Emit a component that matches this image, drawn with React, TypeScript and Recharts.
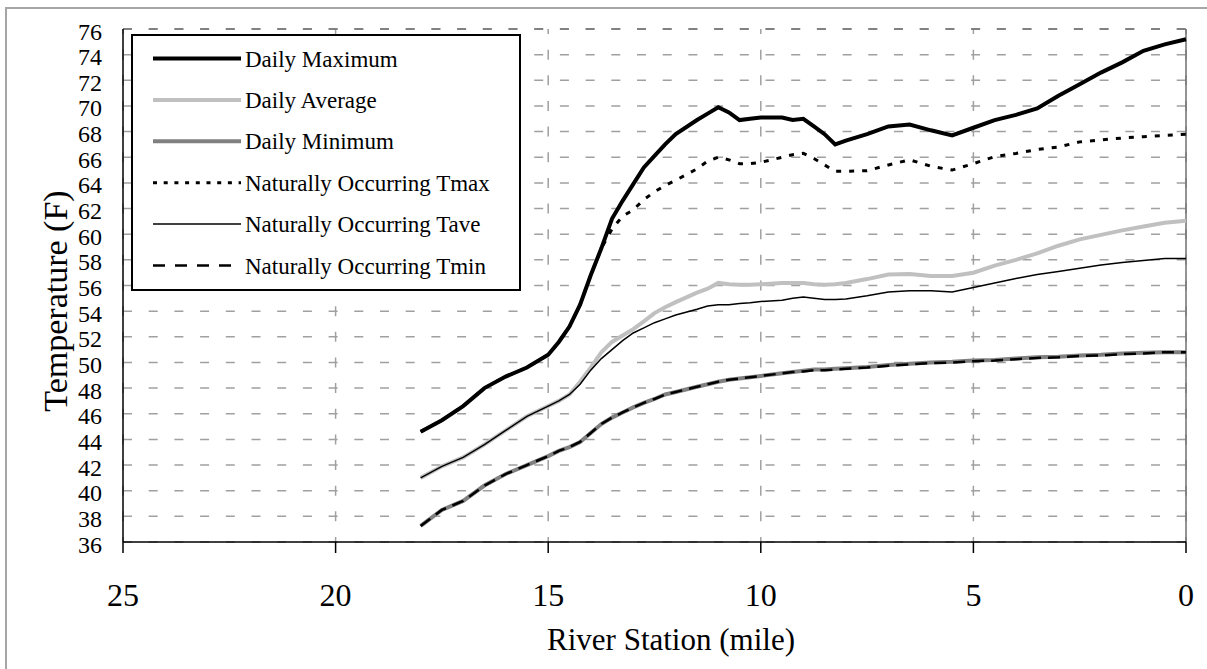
import React from "react";
import { LineChart, Line, XAxis, YAxis, CartesianGrid, ReferenceLine } from "recharts";

// river stations (miles upstream of the mouth)
const miles = [18, 17.5, 17, 16.5, 16, 15.5, 15, 14.75, 14.5, 14.25, 14, 13.75, 13.5, 13.25, 13, 12.75, 12.5, 12.25, 12, 11.5, 11.25, 11, 10.75, 10.5, 10.25, 10, 9.5, 9.25, 9, 8.75, 8.5, 8.25, 8, 7.5, 7, 6.5, 6, 5.5, 5, 4.5, 4, 3.5, 3, 2.5, 2, 1.5, 1, 0.5, 0];

const dailyMax = [44.6, 45.5, 46.6, 48.0, 48.9, 49.6, 50.6, 51.6, 52.8, 54.5, 56.8, 58.9, 61.2, 62.6, 63.9, 65.2, 66.1, 67.0, 67.8, 68.9, 69.4, 69.9, 69.5, 68.9, 69.0, 69.1, 69.1, 68.9, 69.0, 68.4, 67.8, 67.0, 67.3, 67.8, 68.4, 68.55, 68.1, 67.7, 68.3, 68.9, 69.3, 69.8, 70.8, 71.7, 72.6, 73.4, 74.3, 74.8, 75.2];
const dailyAve = [41.0, 41.9, 42.6, 43.6, 44.7, 45.8, 46.6, 47.0, 47.5, 48.5, 49.6, 50.8, 51.6, 52.1, 52.6, 53.2, 53.85, 54.3, 54.7, 55.45, 55.75, 56.2, 56.1, 56.05, 56.05, 56.1, 56.2, 56.2, 56.2, 56.1, 56.05, 56.1, 56.2, 56.5, 56.85, 56.9, 56.75, 56.75, 57.0, 57.55, 58.0, 58.5, 59.1, 59.6, 59.95, 60.3, 60.6, 60.9, 61.05];
const dailyMin = [37.25, 38.5, 39.2, 40.4, 41.3, 42.0, 42.7, 43.1, 43.4, 43.8, 44.5, 45.2, 45.7, 46.1, 46.5, 46.85, 47.15, 47.5, 47.7, 48.1, 48.3, 48.5, 48.65, 48.75, 48.85, 48.95, 49.15, 49.25, 49.35, 49.45, 49.45, 49.5, 49.55, 49.65, 49.8, 49.9, 50.0, 50.05, 50.15, 50.2, 50.3, 50.4, 50.45, 50.55, 50.6, 50.7, 50.75, 50.8, 50.8];
const natTmax = [44.6, 45.5, 46.6, 48.0, 48.9, 49.6, 50.6, 51.6, 52.8, 54.5, 56.8, 58.9, 60.4, 61.4, 61.9, 62.7, 63.3, 63.8, 64.2, 65.1, 65.7, 66.0, 65.8, 65.5, 65.5, 65.6, 66.0, 66.2, 66.3, 65.9, 65.4, 64.9, 64.9, 64.95, 65.4, 65.8, 65.3, 65.0, 65.5, 66.05, 66.3, 66.6, 66.8, 67.2, 67.35, 67.5, 67.6, 67.7, 67.8];
const natTave = [41.0, 41.9, 42.6, 43.6, 44.7, 45.8, 46.6, 47.0, 47.5, 48.3, 49.4, 50.3, 51.0, 51.7, 52.3, 52.7, 53.1, 53.4, 53.7, 54.15, 54.4, 54.5, 54.5, 54.6, 54.65, 54.75, 54.85, 55.0, 55.1, 55.0, 54.9, 54.9, 54.95, 55.2, 55.5, 55.6, 55.6, 55.5, 55.85, 56.2, 56.55, 56.85, 57.1, 57.35, 57.6, 57.8, 57.95, 58.1, 58.1];
const natTmin = [37.25, 38.5, 39.2, 40.4, 41.3, 42.0, 42.7, 43.1, 43.4, 43.8, 44.5, 45.2, 45.7, 46.1, 46.5, 46.85, 47.15, 47.5, 47.7, 48.1, 48.3, 48.5, 48.65, 48.75, 48.85, 48.95, 49.15, 49.25, 49.3, 49.4, 49.4, 49.45, 49.5, 49.6, 49.75, 49.85, 49.95, 50.0, 50.1, 50.15, 50.25, 50.35, 50.4, 50.5, 50.55, 50.65, 50.7, 50.8, 50.8];

const xTicks = [25, 20, 15, 10, 5, 0];
const yTicks = [36, 38, 40, 42, 44, 46, 48, 50, 52, 54, 56, 58, 60, 62, 64, 66, 68, 70, 72, 74, 76];

const serif = { fontFamily: '"Liberation Serif", "DejaVu Serif", serif' };

const series = [
  { key: "max", name: "Daily Maximum", color: "#000000", width: 4, dash: undefined, legendDash: undefined },
  { key: "ave", name: "Daily Average", color: "#c0c0c0", width: 4, dash: undefined, legendDash: undefined },
  { key: "min", name: "Daily Minimum", color: "#808080", width: 4, dash: undefined, legendDash: undefined },
  { key: "tmax", name: "Naturally Occurring Tmax", color: "#000000", width: 3, dash: "5 8", legendDash: "4 6.7" },
  { key: "tave", name: "Naturally Occurring Tave", color: "#000000", width: 1.5, dash: undefined, legendDash: undefined },
  { key: "tmin", name: "Naturally Occurring Tmin", color: "#000000", width: 2.5, dash: "12 7", legendDash: "12 10" },
];

const data = miles.map((m, i) => ({
  mile: m,
  max: dailyMax[i],
  ave: dailyAve[i],
  min: dailyMin[i],
  tmax: natTmax[i],
  tave: natTave[i],
  tmin: natTmin[i],
}));

const YTick = (props: any) => (
  <text x={102} y={props.y} dy={10.5} textAnchor="end" fontSize={24} style={serif} fill="#000">
    {props.payload.value}
  </text>
);

const XTick = (props: any) => (
  <text x={props.x} y={606} textAnchor="middle" fontSize={32} style={serif} fill="#000">
    {props.payload.value}
  </text>
);

function ChartLegend() {
  return (
    <div
      style={{
        position: "absolute",
        left: 131,
        top: 34,
        width: 386,
        height: 253,
        border: "2px solid #000",
        background: "#fff",
      }}
    >
      <svg width={386} height={253}>
        {series.map((s, i) => {
          const y = 22.5 + i * 41.4;
          return (
            <g key={s.key}>
              <line x1={20} x2={108} y1={y} y2={y} stroke={s.color} strokeWidth={s.width} strokeDasharray={s.legendDash} />
              <text x={112} y={y + 8} fontSize={23} style={serif} fill="#000">
                {s.name}
              </text>
            </g>
          );
        })}
      </svg>
    </div>
  );
}

export default function App() {
  return (
    <div style={{ position: "absolute", left: 0, top: 0, width: 1207, height: 669, background: "#fff", overflow: "hidden" }}>
      <div
        style={{
          position: "absolute",
          left: 5,
          top: 7,
          width: 1220,
          height: 680,
          borderLeft: "2px solid #a6a6a6",
          borderTop: "2px solid #a6a6a6",
        }}
      />
      <LineChart width={1207} height={669} data={data} margin={{ top: 29, right: 21, bottom: 67, left: 53 }}>
        <CartesianGrid
          horizontal={true}
          vertical={false}
          stroke="#a0a0a0"
          strokeWidth={1.5}
          strokeDasharray="9 16.7"
        />
        <CartesianGrid
          horizontal={false}
          vertical={true}
          stroke="#a0a0a0"
          strokeWidth={1.5}
          strokeDasharray="10 15.65"
          strokeDashoffset={5}
        />
        <XAxis
          dataKey="mile"
          type="number"
          domain={[0, 25]}
          reversed
          ticks={xTicks}
          interval={0}
          height={60}
          tick={<XTick />}
          tickSize={11}
          tickLine={{ stroke: "#000", strokeWidth: 1.5 }}
          axisLine={{ stroke: "#000", strokeWidth: 1.5 }}
        />
        <YAxis
          type="number"
          domain={[36, 76]}
          ticks={yTicks}
          interval={0}
          width={70}
          tick={<YTick />}
          tickLine={false}
          axisLine={{ stroke: "#000", strokeWidth: 1.5 }}
        />
        <ReferenceLine x={0} stroke="#707070" strokeWidth={1.5} />
        <ReferenceLine y={76} stroke="#707070" strokeWidth={1.5} strokeDasharray="9 16.7" />
        {series.map((s) => (
          <Line
            key={s.key}
            dataKey={s.key}
            name={s.name}
            type="linear"
            stroke={s.color}
            strokeWidth={s.width}
            strokeDasharray={s.dash}
            dot={false}
            isAnimationActive={false}
          />
        ))}
        <text x={671} y={650} textAnchor="middle" fontSize={31} style={serif} fill="#000">
          River Station (mile)
        </text>
        <text
          x={67}
          y={301}
          transform="rotate(-90 67 301)"
          textAnchor="middle"
          fontSize={34}
          style={serif}
          fill="#000"
        >
          Temperature (F)
        </text>
      </LineChart>
      <ChartLegend />
    </div>
  );
}
